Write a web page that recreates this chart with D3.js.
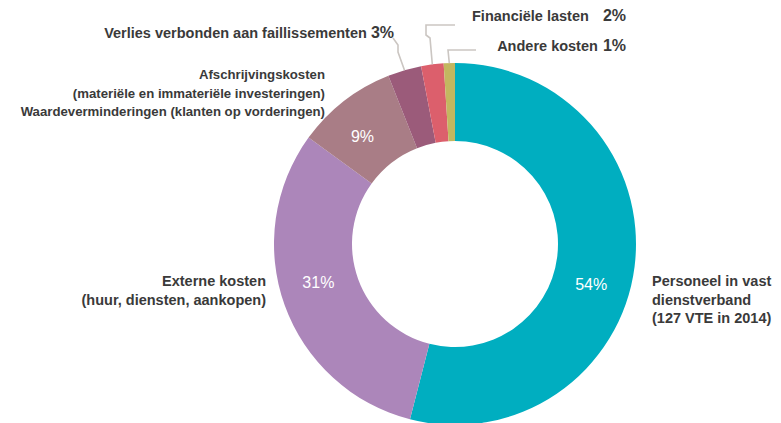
<!DOCTYPE html>
<html>
<head>
<meta charset="utf-8">
<script src="https://cdn.jsdelivr.net/npm/d3@7"></script>
<style>
  body { margin: 0; background: #fff; }
  svg { display: block; }
  .lbl { font-family: "Liberation Sans", Arial, sans-serif; font-weight: bold; font-size: 14.5px; fill: #3a3a3a; }
  .lbl.tight { font-size: 13.2px; }
  .big { font-size: 16px; }
  .pct { font-family: "Liberation Sans", Arial, sans-serif; font-size: 16px; fill: #fff; }
</style>
</head>
<body>
<div id="chart"></div>
<script>
// data
var categories = [
  "Personeel in vast dienstverband (127 VTE in 2014)",
  "Externe kosten (huur, diensten, aankopen)",
  "Afschrijvingskosten (materiële en immateriële investeringen) Waardeverminderingen (klanten op vorderingen)",
  "Verlies verbonden aan faillissementen",
  "Financiële lasten",
  "Andere kosten"
];
var values = [54, 31, 9, 3, 2, 1];
var colors = ["#00aec0", "#ac86ba", "#a97d86", "#9b5b7a", "#dc5f6c", "#c3b760"];

(function() {
  var width = 781, height = 423;
  var cx = 455, cy = 244, rOuter = 181, rInner = 103;

  var svg = d3.select('#chart').append('svg:svg').attr('width', width).attr('height', height);
  var g = svg.append('g').attr('transform', 'translate(' + cx + ',' + cy + ')');

  var pie = d3.pie().sort(null).value(function(d) { return d; });
  var arcs = pie(values);
  var arc = d3.arc().innerRadius(rInner).outerRadius(rOuter);

  g.selectAll('path.slice').data(arcs).enter().append('path')
    .attr('class', 'slice')
    .attr('d', arc)
    .attr('fill', function(d, i) { return colors[i]; });

  // percentage labels inside the big slices
  var angleShift = [0.16, 0.07, -0.05];
  var rMid = (rInner + rOuter) / 2;
  arcs.slice(0, 3).forEach(function(d, i) {
    var a = (d.startAngle + d.endAngle) / 2 + angleShift[i];
    g.append('text').attr('class', 'pct')
      .attr('x', Math.sin(a) * rMid)
      .attr('y', -Math.cos(a) * rMid)
      .attr('text-anchor', 'middle')
      .attr('dy', '0.35em')
      .text(values[i] + '%');
  });

  // leader lines for the thin slices
  var line = d3.line();
  var edge = function(i) {
    var a = (arcs[i].startAngle + arcs[i].endAngle) / 2;
    return [cx + Math.sin(a) * rOuter, cy - Math.cos(a) * rOuter];
  };
  var leaders = [
    [[393, 38], [398, 45], [398, 52], edge(3)],
    [[455, 25], [426, 25], [426, 35], [430, 38], edge(4)],
    [[476, 50], [448, 50], edge(5)]
  ];
  svg.selectAll('path.leader').data(leaders).enter().append('path')
    .attr('class', 'leader')
    .attr('d', function(d) { return line(d); })
    .attr('fill', 'none')
    .attr('stroke', '#cbc6c2')
    .attr('stroke-width', 1.6);

  // outside labels
  var addText = function(x, y, lines, anchor, cls) {
    var t = svg.append('text').attr('class', 'lbl' + (cls ? ' ' + cls : '')).attr('text-anchor', anchor);
    lines.forEach(function(s, k) {
      t.append('tspan').attr('x', x).attr('y', y + k * 18.5).text(s);
    });
    return t;
  };
  var addSmall = function(x, y, name, v, gap) {
    var t = svg.append('text').attr('class', 'lbl').attr('text-anchor', 'end').attr('x', x).attr('y', y);
    t.append('tspan').text(name);
    t.append('tspan').attr('class', 'big').attr('dx', gap).text(v + '%');
  };

  addSmall(394, 38, categories[3], values[3], 4);
  addSmall(626, 21, categories[4], values[4], 14);
  addSmall(626, 51, categories[5], values[5], 5);

  addText(325, 79, ['Afschrijvingskosten', '(materiële en immateriële investeringen)', 'Waardeverminderingen (klanten op vorderingen)'], 'end', 'tight');
  addText(266, 286, ['Externe kosten', '(huur, diensten, aankopen)'], 'end');
  addText(652, 286, ['Personeel in vast', 'dienstverband', '(127 VTE in 2014)'], 'start');
})();
</script>
</body>
</html>
